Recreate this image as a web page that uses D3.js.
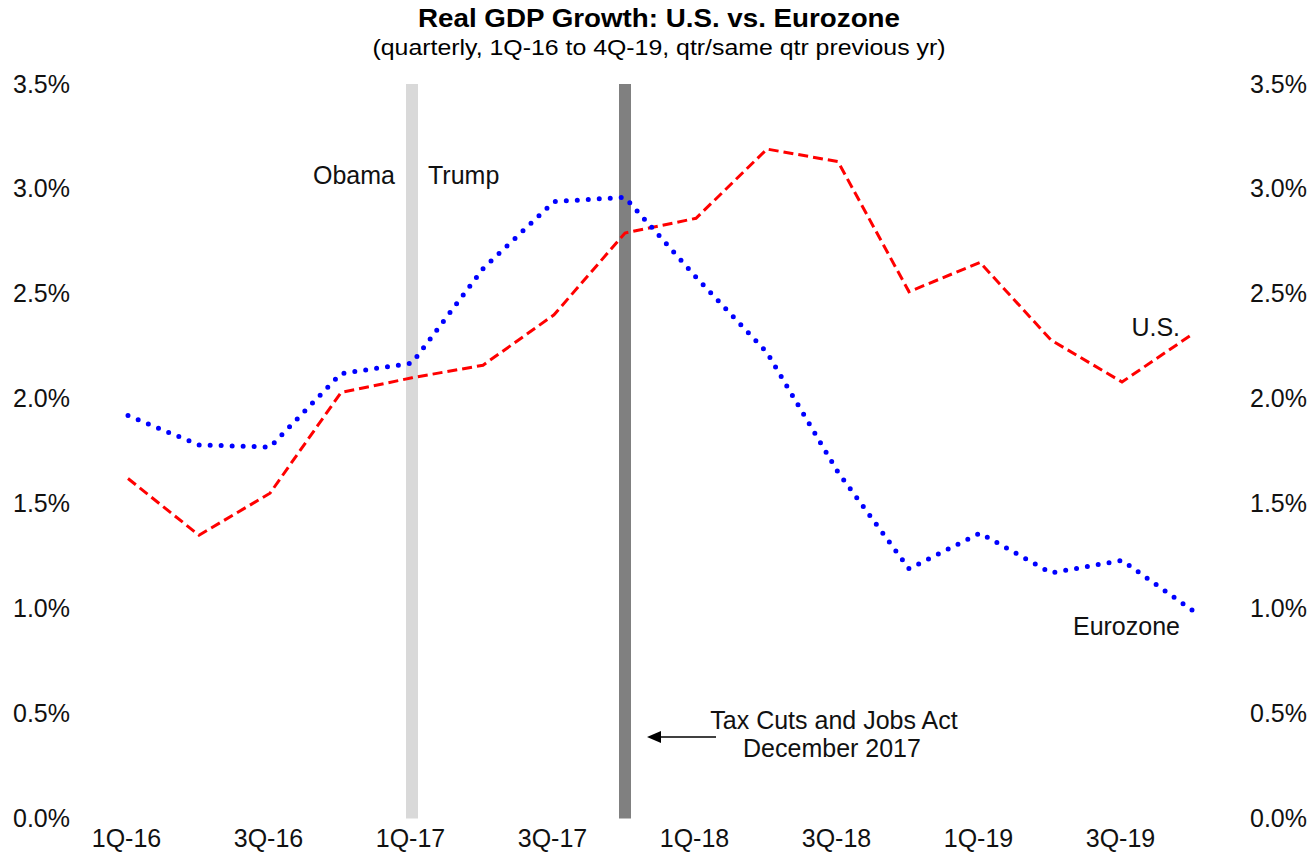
<!DOCTYPE html>
<html>
<head>
<meta charset="utf-8">
<script src="https://cdn.jsdelivr.net/npm/d3@7"></script>
<style>
  body { margin: 0; background: #fff; }
  svg { font-family: "Liberation Sans", Arial, sans-serif; }
  .tick text { font-size: 25px; fill: #111; }
</style>
</head>
<body>
<svg width="1307" height="865"></svg>
<script>
var quarters = ["1Q-16","2Q-16","3Q-16","4Q-16","1Q-17","2Q-17","3Q-17","4Q-17",
                "1Q-18","2Q-18","3Q-18","4Q-18","1Q-19","2Q-19","3Q-19","4Q-19"];
var tickQuarters = ["1Q-16","3Q-16","1Q-17","3Q-17","1Q-18","3Q-18","1Q-19","3Q-19"];
var usGrowth = [1.62, 1.35, 1.55, 2.03, 2.10, 2.16, 2.40, 2.79,
                2.86, 3.19, 3.13, 2.51, 2.65, 2.28, 2.08, 2.31];
var euroGrowth = [1.92, 1.78, 1.77, 2.12, 2.17, 2.62, 2.94, 2.96,
                  2.58, 2.22, 1.65, 1.19, 1.36, 1.17, 1.23, 0.99];
var yTicks = [0, 0.5, 1, 1.5, 2, 2.5, 3, 3.5];
var markers = [
  {q: "1Q-17", color: "#d9d9d9"},
  {q: "4Q-17", color: "#808080"}
];

var svg = d3.select("svg");

var x = d3.scalePoint().domain(quarters).range([128, 1193]);
var y = d3.scaleLinear().domain([0, 3.5]).range([818.5, 84]);

// title
svg.append("text")
  .attr("x", 659).attr("y", 27)
  .attr("text-anchor", "middle")
  .style("font-size", "26px").style("font-weight", "bold")
  .attr("textLength", 482).attr("lengthAdjust", "spacingAndGlyphs")
  .text("Real GDP Growth: U.S. vs. Eurozone");
svg.append("text")
  .attr("x", 659).attr("y", 55)
  .attr("text-anchor", "middle")
  .style("font-size", "22px")
  .attr("textLength", 573).attr("lengthAdjust", "spacingAndGlyphs")
  .text("(quarterly, 1Q-16 to 4Q-19, qtr/same qtr previous yr)");

// vertical marker bars
svg.append("g").selectAll("rect").data(markers).enter()
  .append("rect")
    .attr("x", d => x(d.q) - 6)
    .attr("width", 12)
    .attr("y", y(3.5))
    .attr("height", y(0) - y(3.5))
    .attr("fill", d => d.color);

// axes
var yFmt = d => d.toFixed(1) + "%";
svg.append("g")
  .attr("transform", "translate(70,0)")
  .call(d3.axisLeft(y).tickValues(yTicks).tickFormat(yFmt).tickSize(0).tickPadding(0))
  .call(g => g.select(".domain").remove());
svg.append("g")
  .attr("transform", "translate(1250,0)")
  .call(d3.axisRight(y).tickValues(yTicks).tickFormat(yFmt).tickSize(0).tickPadding(0))
  .call(g => g.select(".domain").remove());
svg.append("g")
  .attr("transform", "translate(-2,829)")
  .call(d3.axisBottom(x).tickValues(tickQuarters).tickSize(0).tickPadding(0))
  .call(g => g.select(".domain").remove());

var line = d3.line().x((d, i) => x(quarters[i])).y(d => y(d));

svg.append("path")
  .datum(usGrowth)
  .attr("d", line)
  .attr("fill", "none")
  .attr("stroke", "#ff0000")
  .attr("stroke-width", 3)
  .attr("stroke-dasharray", "10,5");

svg.append("path")
  .datum(euroGrowth)
  .attr("d", line)
  .attr("fill", "none")
  .attr("stroke", "#0000ff")
  .attr("stroke-width", 5)
  .attr("stroke-linecap", "round")
  .attr("stroke-dasharray", "0,11");

// annotations
var label = (tx, ty, t, anchor) => svg.append("text")
  .attr("x", tx).attr("y", ty)
  .attr("text-anchor", anchor || "start")
  .style("font-size", "25px").style("fill", "#111")
  .text(t);

label(395, 184, "Obama", "end");
label(428, 184, "Trump");
label(1180, 336, "U.S.", "end");
label(1180, 635, "Eurozone", "end");
label(834, 729, "Tax Cuts and Jobs Act", "middle");
label(832, 757, "December 2017", "middle");

svg.append("defs").append("marker")
  .attr("id", "arrow")
  .attr("viewBox", "0 0 14 12")
  .attr("refX", 0).attr("refY", 6)
  .attr("markerUnits", "userSpaceOnUse")
  .attr("markerWidth", 14).attr("markerHeight", 12)
  .attr("orient", "auto-start-reverse")
  .append("path").attr("d", "M0,0L14,6L0,12Z").attr("fill", "#000");

svg.append("line")
  .attr("x1", 716).attr("y1", 737)
  .attr("x2", 661).attr("y2", 737)
  .attr("stroke", "#000").attr("stroke-width", 1.5)
  .attr("marker-end", "url(#arrow)");
</script>
</body>
</html>
